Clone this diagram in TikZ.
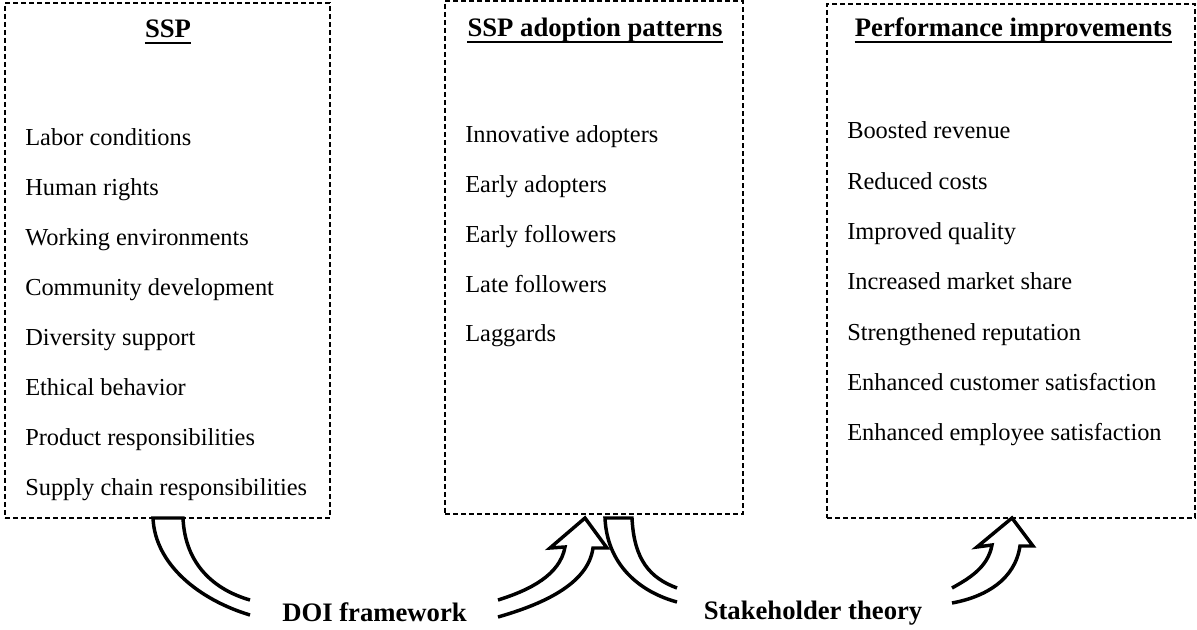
\documentclass[tikz,border=0pt]{standalone}
\usepackage{fontspec}
\setmainfont{Liberation Serif}
\usetikzlibrary{fit}

\tikzset{
  panel/.style={draw, line width=1.5pt, dash pattern=on 3.75pt off 2.25pt, inner sep=0pt},
  heading/.style={font=\fontsize{20}{24}\selectfont\bfseries, inner sep=0pt, anchor=base},
  item/.style={font=\fontsize{18.3}{22}\selectfont, inner sep=0pt, anchor=base west},
  rule/.style={line width=1.5pt},
  blockarrow/.style={draw, fill=white, line width=2.6pt, line join=miter},
  caption/.style={font=\fontsize{20}{24}\selectfont\bfseries, inner sep=0pt, anchor=base}
}

\begin{document}
\begin{tikzpicture}[x=0.75pt, y=-0.75pt]
\useasboundingbox (0,0) rectangle (1197,630);

% the three panels
\node[panel, fit={(5,3) (330,518)}] (ssp) {};
\node[panel, fit={(445,1) (743,514)}] (adopt) {};
\node[panel, fit={(827,4) (1195,518)}] (perf) {};

% panel headings, underlined
\node[heading] (h1) at (168,38) {SSP};
\node[heading] (h2) at (595,37) {SSP adoption patterns};
\node[heading] (h3) at (1013.5,37) {Performance improvements};
\foreach \h in {h1,h2,h3}
  \draw[rule] ([yshift=-3.6pt]\h.base west) -- ([yshift=-3.6pt]\h.base east);

% SSP dimensions
\foreach \t [count=\i from 0] in {Labor conditions, Human rights, Working environments,
    Community development, Diversity support, Ethical behavior,
    Product responsibilities, Supply chain responsibilities}
  \node[item] (s\i) at (25,146+50*\i) {\t};

% adoption patterns
\foreach \t [count=\i from 0] in {Innovative adopters, Early adopters, Early followers,
    Late followers, Laggards}
  \node[item] (a\i) at (465,143+49.75*\i) {\t};

% performance outcomes
\foreach \t [count=\i from 0] in {Boosted revenue, Reduced costs, Improved quality,
    Increased market share, Strengthened reputation,
    Enhanced customer satisfaction, Enhanced employee satisfaction}
  \node[item] (p\i) at (847,139+50.3*\i) {\t};

% theory labels
\node[caption] (doi) at (374.5,622) {DOI framework};
\node[caption] (stk) at (813,620) {Stakeholder theory};

% curved block arrows
\path[blockarrow] (250,600) .. controls (215,590) and (185,565) .. (183,518)
  -- (153,518) .. controls (155,565) and (200,600) .. (250,615);

\path[blockarrow] (498,600) .. controls (530,590) and (560,575) .. (565,547)
  -- (550,548) -- (585,518) -- (607,548) -- (593,548)
  .. controls (588,585) and (540,605) .. (498,617);

\path[blockarrow] (677,588) .. controls (650,578) and (634,560) .. (632,518)
  -- (605,518) .. controls (607,565) and (640,592) .. (677,602);

\path[blockarrow] (952,588) .. controls (970,578) and (988,567) .. (992,545)
  -- (977,547) -- (1012,518) -- (1033,546) -- (1020,546)
  .. controls (1015,580) and (985,597) .. (952,603);
\end{tikzpicture}
\end{document}
